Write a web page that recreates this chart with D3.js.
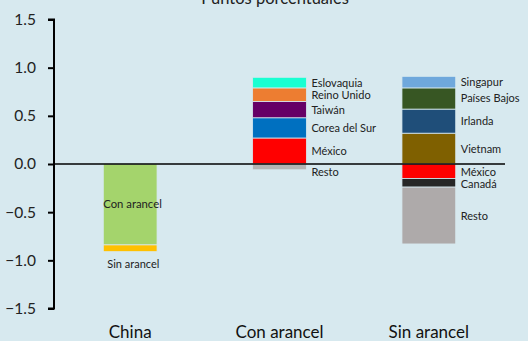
<!DOCTYPE html>
<html><head><meta charset="utf-8">
<script src="https://cdn.jsdelivr.net/npm/d3@7"></script>
<style>body{margin:0;background:#D7E9EF;}svg{display:block;font-family:Lato,"Open Sans",sans-serif;}</style>
</head><body>
<svg id="c" width="528" height="341"></svg>
<script>
const title = "Puntos porcentuales";
const categories = ["China", "Con arancel", "Sin arancel"];
const yTicks = [1.5, 1.0, 0.5, 0.0, -0.5, -1.0, -1.5];

const chinaNames = ["Con arancel", "Sin arancel"];
const chinaValues = [-0.84, -0.07];
const chinaColors = ["#A4D46C", "#FFC000"];

const conNames = ["México", "Corea del Sur", "Taiwán", "Reino Unido", "Eslovaquia", "Resto"];
const conValues = [0.27, 0.21, 0.17, 0.14, 0.11, -0.06];
const conColors = ["#FF0000", "#0070C0", "#660066", "#ED7D31", "#19FFD2", "#B4B4B4"];

const sinNames = ["Vietnam", "Irlanda", "Países Bajos", "Singapur", "México", "Canadá", "Resto"];
const sinValues = [0.32, 0.25, 0.22, 0.12, -0.15, -0.09, -0.59];
const sinColors = ["#7F6000", "#1F4E79", "#375623", "#6FA8DC", "#FF0000", "#262626", "#AEAAAA"];

const svg = d3.select("#c");
const y = d3.scaleLinear().domain([-1.5, 1.5]).range([308.5, 19.5]);
const x = d3.scaleBand().domain(categories).range([54, 505]).paddingInner(0.64).paddingOuter(0.33);

svg.append("text").attr("x", 275).attr("y", 4).attr("text-anchor", "middle")
  .attr("font-size", 16.5).attr("fill", "#222").text(title);

const axis = d3.axisLeft(y).tickValues(yTicks).tickFormat(d3.format(".1f")).tickSize(6).tickPadding(12);
const ga = svg.append("g").attr("transform", "translate(54,0)").call(axis);
ga.select(".domain").attr("stroke", "#000").attr("stroke-width", 2).attr("d", "M-6,19.5H0V308.5H-6");
ga.selectAll(".tick line").attr("stroke", "#000").attr("stroke-width", 2);
ga.selectAll(".tick text").attr("font-size", 15.5).attr("fill", "#222").attr("font-family", "Lato,'Open Sans',sans-serif");

function stack(vals) {
  let pos = 0, neg = 0;
  return vals.map(v => {
    let y0, y1;
    if (v >= 0) { y0 = pos; y1 = pos + v; pos = y1; }
    else { y0 = neg; y1 = neg + v; neg = y1; }
    return [y0, y1];
  });
}

const groups = [
  {cat: "China", names: chinaNames, vals: chinaValues, cols: chinaColors},
  {cat: "Con arancel", names: conNames, vals: conValues, cols: conColors},
  {cat: "Sin arancel", names: sinNames, vals: sinValues, cols: sinColors}
];

groups.forEach((g, gi) => {
  const st = stack(g.vals);
  const bx = x(g.cat), bw = x.bandwidth();
  const labels = [];
  st.forEach((s, i) => {
    const top = y(Math.max(s[0], s[1])), bot = y(Math.min(s[0], s[1]));
    svg.append("rect").attr("x", bx).attr("y", top).attr("width", bw).attr("height", bot - top)
      .attr("fill", g.cols[i]).attr("stroke", "#D7E9EF").attr("stroke-width", 0.8);
    if (gi === 0) {
      if (i === 0) {
        svg.append("text").attr("x", bx).attr("y", (top + bot) / 2 + 4).attr("font-size", 11.3)
          .attr("fill", "#222").text(g.names[i]);
      } else {
        svg.append("text").attr("x", bx + 4).attr("y", bot + 16).attr("font-size", 11)
          .attr("fill", "#222").text(g.names[i]);
      }
    } else {
      labels.push({name: g.names[i], c: (top + bot) / 2, neg: g.vals[i] < 0});
    }
  });
  if (gi > 0) {
    // keep labels clear of the zero line and of each other
    const z = y(0);
    labels.forEach(l => {
      if (l.neg && l.c < z + 8) l.c = z + 8;
      if (!l.neg && l.c > z - 11) l.c = z - 11;
    });
    const negs = labels.filter(l => l.neg).sort((a, b) => a.c - b.c);
    for (let k = 1; k < negs.length; k++) if (negs[k].c < negs[k - 1].c + 12) negs[k].c = negs[k - 1].c + 12;
    labels.forEach(l => {
      svg.append("text").attr("x", bx + bw + 5).attr("y", l.c + 4).attr("font-size", 11)
        .attr("fill", "#222").text(l.name);
    });
  }
});

svg.append("line").attr("x1", 54).attr("x2", 505).attr("y1", y(0)).attr("y2", y(0))
  .attr("stroke", "#000").attr("stroke-width", 1.5);

svg.selectAll(".cat").data(categories).enter().append("text")
  .attr("x", d => x(d) + x.bandwidth() / 2).attr("y", 338).attr("text-anchor", "middle")
  .attr("font-size", 17).attr("fill", "#111").text(d => d);
</script>
</body></html>
